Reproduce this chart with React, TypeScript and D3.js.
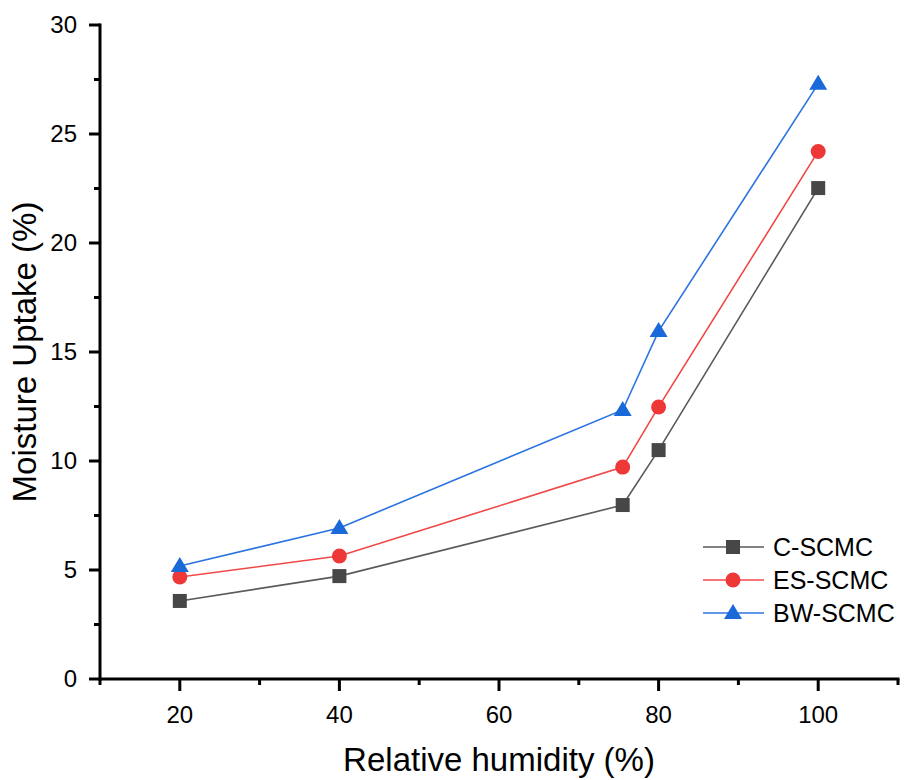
import React from "react";
import * as d3 from "d3";

const humidity = [20, 40, 75.5, 80, 100];
const cScmc = [3.58, 4.72, 7.98, 10.5, 22.52];
const esScmc = [4.68, 5.64, 9.72, 12.48, 24.2];
const bwScmc = [5.18, 6.93, 12.34, 15.96, 27.3];
const seriesNames = ["C-SCMC", "ES-SCMC", "BW-SCMC"];
const xMajorTicks = [20, 40, 60, 80, 100];
const xMinorTicks = [10, 30, 50, 70, 90, 110];
const yMajorTicks = [0, 5, 10, 15, 20, 25, 30];
const yMinorTicks = [2.5, 7.5, 12.5, 17.5, 22.5, 27.5];

const W = 906;
const H = 780;
const FONT = "Liberation Sans, Arial, sans-serif";

export default function App() {
  const x = d3.scaleLinear().domain([10, 110]).range([100, 898]);
  const y = d3.scaleLinear().domain([0, 30]).range([679, 25]);
  const line = d3
    .line<[number, number]>()
    .x((d) => x(d[0]))
    .y((d) => y(d[1]));

  const series = [
    { name: seriesNames[0], values: cScmc, line: "#5a5a5a", fill: "#474747", shape: "square" },
    { name: seriesNames[1], values: esScmc, line: "#f04848", fill: "#ee3838", shape: "circle" },
    { name: seriesNames[2], values: bwScmc, line: "#2b74e0", fill: "#1a69d9", shape: "triangle" },
  ];

  const marker = (shape: string, cx: number, cy: number, fill: string, key: any) => {
    if (shape === "square")
      return <rect key={key} x={cx - 7} y={cy - 7} width={14} height={14} fill={fill} />;
    if (shape === "circle") return <circle key={key} cx={cx} cy={cy} r={7.5} fill={fill} />;
    return (
      <path
        key={key}
        d={`M${cx},${cy - 9} L${cx + 9},${cy + 6} L${cx - 9},${cy + 6} Z`}
        fill={fill}
      />
    );
  };

  const legendY = [547, 580, 613];

  return (
    <svg
      width={W}
      height={H}
      style={{ position: "absolute", left: 0, top: 0, background: "#fff" }}
      fontFamily={FONT}
    >
      {/* data */}
      {series.map((s, si) => {
        const pts: [number, number][] = humidity.map((h, i) => [h, s.values[i]]);
        return (
          <g key={si}>
            <path d={line(pts) || ""} fill="none" stroke={s.line} strokeWidth={1.6} />
            {pts.map((p, i) => marker(s.shape, x(p[0]), y(p[1]), s.fill, i))}
          </g>
        );
      })}

      {/* axes */}
      <line x1={100} x2={100} y1={y(30) - 1.5} y2={y(0) + 1.5} stroke="#000" strokeWidth={3} />
      <line x1={98.5} x2={899.5} y1={y(0)} y2={y(0)} stroke="#000" strokeWidth={3} />
      {yMajorTicks.map((t) => (
        <g key={"ym" + t}>
          <line x1={89} x2={100} y1={y(t)} y2={y(t)} stroke="#000" strokeWidth={3} />
          <text x={77} y={y(t)} dy="0.35em" textAnchor="end" fontSize={24} fill="#000">
            {t}
          </text>
        </g>
      ))}
      {yMinorTicks.map((t) => (
        <line key={"yn" + t} x1={94} x2={100} y1={y(t)} y2={y(t)} stroke="#000" strokeWidth={3} />
      ))}
      {xMajorTicks.map((t) => (
        <g key={"xm" + t}>
          <line x1={x(t)} x2={x(t)} y1={y(0)} y2={y(0) + 12} stroke="#000" strokeWidth={3} />
          <text x={x(t)} y={723} textAnchor="middle" fontSize={24} fill="#000">
            {t}
          </text>
        </g>
      ))}
      {xMinorTicks.map((t) => (
        <line key={"xn" + t} x1={x(t)} x2={x(t)} y1={y(0)} y2={y(0) + 6} stroke="#000" strokeWidth={3} />
      ))}

      {/* axis titles */}
      <text x={499} y={771} textAnchor="middle" fontSize={33} fill="#000">
        Relative humidity (%)
      </text>
      <text
        transform={`translate(36,352) rotate(-90)`}
        textAnchor="middle"
        fontSize={33}
        fill="#000"
      >
        Moisture Uptake (%)
      </text>

      {/* legend */}
      {series.map((s, i) => (
        <g key={"lg" + i}>
          <line x1={703} x2={764} y1={legendY[i]} y2={legendY[i]} stroke={s.line} strokeWidth={1.6} />
          {marker(s.shape, 733, legendY[i], s.fill, "m")}
          <text x={773} y={legendY[i]} dy="0.36em" fontSize={25} fill="#000">
            {s.name}
          </text>
        </g>
      ))}
    </svg>
  );
}
